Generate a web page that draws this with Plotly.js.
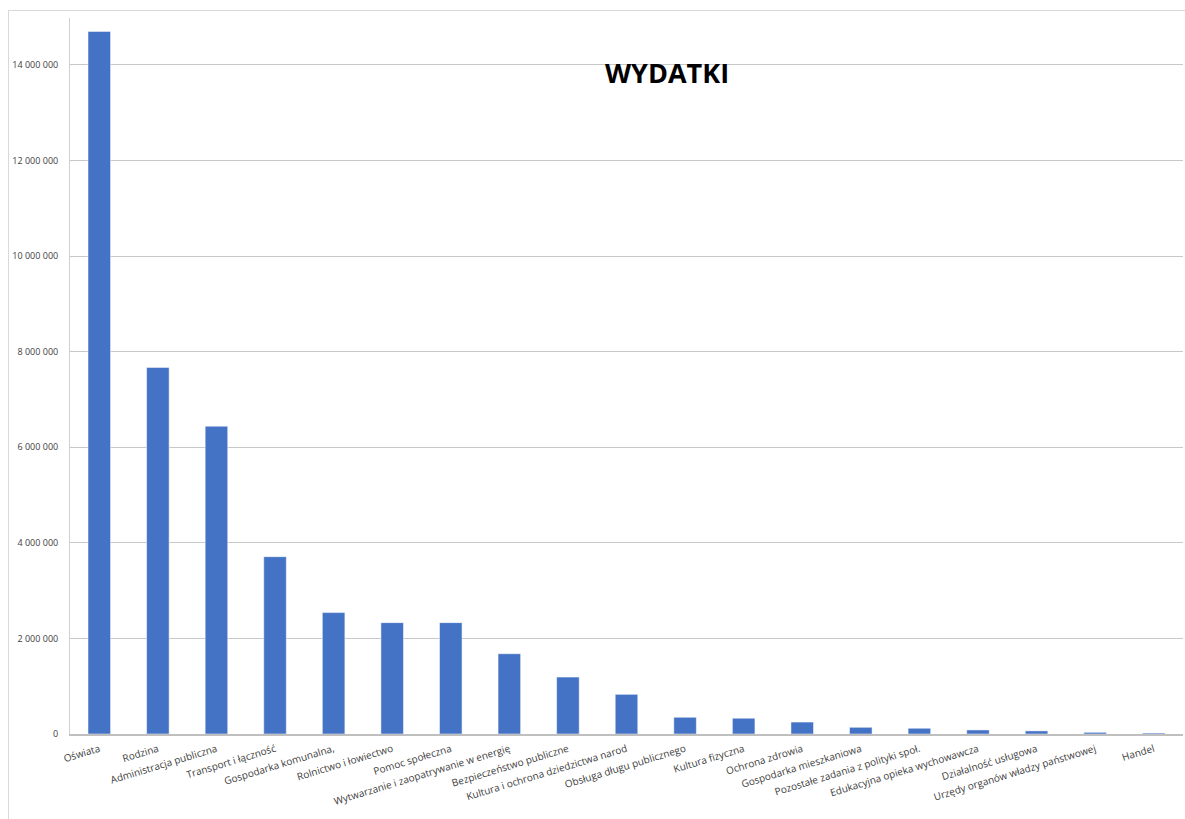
<!DOCTYPE html>
<html>
<head>
<meta charset="utf-8">
<script src="https://cdn.plot.ly/plotly-3.0.1.min.js"></script>
<style>
  html, body { margin: 0; padding: 0; background: #ffffff; }
  #frame { position: absolute; left: 8px; top: 10px; width: 1185px; height: 815px;
           border-left: 1px solid #d9d9d9; border-top: 1px solid #d9d9d9; box-sizing: border-box; }
  #chart { position: absolute; left: 0; top: 0; width: 1177px; height: 809px; }
</style>
</head>
<body>
<div id="frame"><div id="chart"></div></div>
<script>
const categories = [
  "Oświata", "Rodzina", "Administracja publiczna", "Transport i łączność",
  "Gospodarka komunalna,", "Rolnictwo i łowiectwo", "Pomoc społeczna",
  "Wytwarzanie i zaopatrywanie w energię", "Bezpieczeństwo publiczne",
  "Kultura i ochrona dziedzictwa narod", "Obsługa długu publicznego",
  "Kultura fizyczna", "Ochrona zdrowia", "Gospodarka mieszkaniowa",
  "Pozostałe zadania z polityki społ.", "Edukacyjna opieka wychowawcza",
  "Działalność usługowa", "Urzędy organów władzy państwowej", "Handel"
];
const wydatki = [
  14700000, 7670000, 6440000, 3710000, 2540000, 2330000, 2330000,
  1680000, 1190000, 830000, 350000, 330000, 250000, 140000,
  120000, 85000, 65000, 35000, 20000
];
const yTicks = [0, 2000000, 4000000, 6000000, 8000000, 10000000, 12000000, 14000000];

const trace = {
  type: "bar",
  x: categories,
  y: wydatki,
  marker: { color: "#4472c4", line: { color: "#ffffff", width: 0.5 } },
  hoverinfo: "x+y"
};

const layout = {
  width: 1177,
  height: 809,
  margin: { l: 61, r: 3, t: 7, b: 86 },
  paper_bgcolor: "#ffffff",
  plot_bgcolor: "#ffffff",
  separators: ", ",
  showlegend: false,
  bargap: 0.615,
  font: { family: "Open Sans, Liberation Sans, sans-serif", color: "#595959" },
  xaxis: {
    type: "category",
    tickangle: -17,
    tickfont: { size: 10, color: "#404040" },
    showgrid: false,
    showline: true,
    linecolor: "#bfbfbf",
    linewidth: 1.5,
    ticks: "",
    ticklabelstandoff: 4,
    automargin: false
  },
  yaxis: {
    range: [0, 14980000],
    tickvals: yTicks,
    tickformat: ",.0f",
    tickfont: { size: 9, color: "#404040" },
    showgrid: true,
    gridcolor: "#c8c8c8",
    gridwidth: 1,
    zeroline: false,
    showline: true,
    linecolor: "#d0d0d0",
    linewidth: 1,
    ticks: "",
    ticklabelstandoff: 9,
    automargin: false
  },
  annotations: [{
    text: "<b>WYDATKI</b>",
    xref: "paper", yref: "paper",
    x: 0.536, y: 0.924,
    xanchor: "center", yanchor: "middle",
    showarrow: false,
    font: { size: 27, color: "#000000", family: "Open Sans, Liberation Sans, sans-serif" }
  }]
};

Plotly.newPlot("chart", [trace], layout, { displayModeBar: false, staticPlot: true });
</script>
</body>
</html>
